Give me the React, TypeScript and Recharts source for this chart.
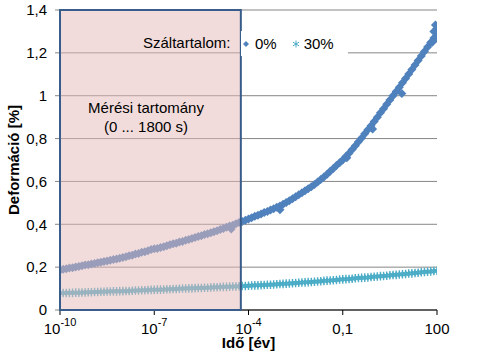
import { ScatterChart, Scatter, XAxis, YAxis, CartesianGrid, ReferenceArea } from 'recharts';

// time axis in years, given as log10 exponents (one reading every 0.1 decade)
const LOG_T = [
  -10, -9.9, -9.8, -9.7, -9.6, -9.5, -9.4, -9.3, -9.2, -9.1,
  -9, -8.9, -8.8, -8.7, -8.6, -8.5, -8.4, -8.3, -8.2, -8.1,
  -8, -7.9, -7.8, -7.7, -7.6, -7.5, -7.4, -7.3, -7.2, -7.1,
  -7, -6.9, -6.8, -6.7, -6.6, -6.5, -6.4, -6.3, -6.2, -6.1,
  -6, -5.9, -5.8, -5.7, -5.6, -5.5, -5.4, -5.3, -5.2, -5.1,
  -5, -4.9, -4.8, -4.7, -4.6, -4.5, -4.4, -4.3, -4.2, -4.1,
  -4, -3.9, -3.8, -3.7, -3.6, -3.5, -3.4, -3.3, -3.2, -3.1,
  -3, -2.9, -2.8, -2.7, -2.6, -2.5, -2.4, -2.3, -2.2, -2.1,
  -2, -1.9, -1.8, -1.7, -1.6, -1.5, -1.4, -1.3, -1.2, -1.1,
  -1, -0.9, -0.8, -0.7, -0.6, -0.5, -0.4, -0.3, -0.2, -0.1,
  0, 0.1, 0.2, 0.3, 0.4, 0.5, 0.6, 0.7, 0.8, 0.9,
  1, 1.1, 1.2, 1.3, 1.4, 1.5, 1.6, 1.7, 1.8, 1.9,
  2,
];

// deformation [%], 0% fibre content
const DEF_0 = [
  0.186, 0.19, 0.192, 0.196, 0.197, 0.201, 0.203, 0.206, 0.21, 0.211,
  0.215, 0.217, 0.221, 0.223, 0.226, 0.229, 0.232, 0.236, 0.238, 0.242,
  0.245, 0.248, 0.253, 0.256, 0.261, 0.264, 0.269, 0.272, 0.277, 0.282,
  0.286, 0.287, 0.292, 0.295, 0.3, 0.304, 0.309, 0.312, 0.317, 0.32,
  0.325, 0.329, 0.334, 0.338, 0.343, 0.347, 0.352, 0.356, 0.361, 0.365,
  0.37, 0.376, 0.38, 0.386, 0.392, 0.396, 0.403, 0.408, 0.413, 0.419,
  0.425, 0.43, 0.437, 0.442, 0.448, 0.455, 0.46, 0.467, 0.472, 0.479,
  0.485, 0.493, 0.502, 0.51, 0.519, 0.529, 0.538, 0.547, 0.556, 0.566,
  0.575, 0.586, 0.597, 0.609, 0.621, 0.634, 0.648, 0.66, 0.674, 0.687,
  0.7, 0.716, 0.732, 0.749, 0.767, 0.785, 0.803, 0.822, 0.841, 0.86,
  0.88, 0.899, 0.92, 0.939, 0.96, 0.98, 1.0, 1.02, 1.04, 1.06,
  1.08, 1.101, 1.122, 1.143, 1.164, 1.185, 1.206, 1.227, 1.248, 1.269,
  1.29,
];

// scattered single readings of the 0% series
const OUT_LOG_T = [-4.55, -3.0, -0.87, -0.05, 0.88, 1.85, 1.9, 1.95, 1.98, 2.0];
const OUT_DEF_0 = [0.378, 0.468, 0.71, 0.845, 1.01, 1.25, 1.3, 1.33, 1.31, 1.268];

// deformation [%], 30% fibre content
const DEF_30 = [
  0.078, 0.079, 0.079, 0.08, 0.08, 0.081, 0.081, 0.082, 0.082, 0.083,
  0.083, 0.084, 0.084, 0.085, 0.085, 0.086, 0.086, 0.087, 0.087, 0.088,
  0.088, 0.089, 0.089, 0.09, 0.091, 0.091, 0.092, 0.092, 0.093, 0.094,
  0.094, 0.095, 0.095, 0.096, 0.097, 0.097, 0.098, 0.098, 0.099, 0.1,
  0.1, 0.101, 0.101, 0.102, 0.103, 0.103, 0.104, 0.104, 0.105, 0.106,
  0.106, 0.107, 0.108, 0.108, 0.109, 0.11, 0.11, 0.111, 0.112, 0.112,
  0.113, 0.114, 0.115, 0.115, 0.116, 0.117, 0.118, 0.118, 0.119, 0.12,
  0.121, 0.122, 0.123, 0.124, 0.125, 0.126, 0.127, 0.128, 0.129, 0.13,
  0.131, 0.132, 0.133, 0.134, 0.136, 0.137, 0.138, 0.139, 0.14, 0.142,
  0.143, 0.144, 0.145, 0.146, 0.148, 0.149, 0.15, 0.151, 0.152, 0.154,
  0.155, 0.156, 0.158, 0.159, 0.16, 0.162, 0.163, 0.164, 0.166, 0.167,
  0.168, 0.17, 0.171, 0.173, 0.174, 0.176, 0.177, 0.179, 0.18, 0.182,
  0.183,
];

const X_TICKS = [1e-10, 1e-7, 1e-4, 0.1, 100];
const X_TICK_LABELS: [string, string][] = [
  ['10', '-10'],
  ['10', '-7'],
  ['10', '-4'],
  ['0,1', ''],
  ['100', ''],
];
const Y_TICKS = [0, 0.2, 0.4, 0.6, 0.8, 1, 1.2, 1.4];

// measuring range 0 ... 1800 s, in years
const RANGE_START = 1e-10;
const RANGE_END = 1800 / (365.25 * 24 * 3600);

const BLUE = '#4F81BD';
const TEAL = '#4BACC6';
const FONT = '"Liberation Sans", Arial, sans-serif';

const data0 = LOG_T.map((e, i) => ({ t: Math.pow(10, e), d: DEF_0[i] })).concat(
  OUT_LOG_T.map((e, i) => ({ t: Math.pow(10, e), d: OUT_DEF_0[i] }))
);
const data30 = LOG_T.map((e, i) => ({ t: Math.pow(10, e), d: DEF_30[i] }));

const Diamond = ({ cx, cy }: any) => {
  const r = 4.5;
  return <path d={`M${cx},${cy - r}L${cx + r},${cy}L${cx},${cy + r}L${cx - r},${cy}Z`} fill={BLUE} />;
};

const Asterisk = ({ cx, cy }: any) => {
  const r = 4.3;
  const a = r * 0.87;
  const b = r * 0.5;
  return (
    <path
      d={`M${cx},${cy - r}V${cy + r}M${cx - a},${cy - b}L${cx + a},${cy + b}M${cx - a},${cy + b}L${cx + a},${cy - b}`}
      stroke={TEAL}
      strokeWidth={1.4}
      fill="none"
    />
  );
};

const TimeTick = ({ x, y, index }: any) => {
  const [base, sup] = X_TICK_LABELS[index] ?? ['', ''];
  return (
    <text x={x} y={y + 17} textAnchor="middle" fontSize={15} fill="#000" fontFamily={FONT}>
      <tspan>{base}</tspan>
      {sup && (
        <tspan dy={-8} fontSize={11}>
          {sup}
        </tspan>
      )}
    </text>
  );
};

export default function App() {
  return (
    <div style={{ position: 'relative', width: 480, height: 355, fontFamily: FONT }}>
      <style>{'body{margin:0}'}</style>
      <ScatterChart width={480} height={355} margin={{ top: 10, right: 43, bottom: 0, left: 0 }}>
        <CartesianGrid vertical={false} stroke="#868686" strokeWidth={1} />
        <XAxis
          type="number"
          dataKey="t"
          scale="log"
          domain={[1e-10, 100]}
          ticks={X_TICKS}
          interval={0}
          allowDataOverflow
          height={45}
          axisLine={{ stroke: '#000' }}
          tickLine={{ stroke: '#000' }}
          tickSize={5}
          tick={<TimeTick />}
          label={{
            content: ({ viewBox }: any) => (
              <text
                x={viewBox.x + viewBox.width / 2}
                y={viewBox.y + 38}
                textAnchor="middle"
                fontSize={15}
                fontWeight="bold"
                fontFamily={FONT}
                fill="#000"
              >
                Idő [év]
              </text>
            ),
          }}
        />
        <YAxis
          type="number"
          dataKey="d"
          domain={[0, 1.4]}
          ticks={Y_TICKS}
          interval={0}
          width={60}
          axisLine={{ stroke: '#868686' }}
          tickLine={{ stroke: '#868686' }}
          tickSize={5}
          tickMargin={8}
          tick={{ fontSize: 15, fill: '#000', fontFamily: FONT }}
          tickFormatter={(v: number) => String(v).replace('.', ',')}
          label={{
            content: ({ viewBox }: any) => {
              const cx = 13;
              const cy = viewBox.y + viewBox.height / 2;
              return (
                <text
                  x={cx}
                  y={cy}
                  transform={`rotate(-90, ${cx}, ${cy})`}
                  textAnchor="middle"
                  dominantBaseline="central"
                  fontSize={15}
                  fontWeight="bold"
                  fontFamily={FONT}
                  fill="#000"
                >
                  Deformáció [%]
                </text>
              );
            },
          }}
        />
        <Scatter name="0%" data={data0} shape={<Diamond />} isAnimationActive={false} />
        <Scatter name="30%" data={data30} shape={<Asterisk />} isAnimationActive={false} />
        <ReferenceArea
          x1={RANGE_START}
          x2={RANGE_END}
          y1={0}
          y2={1.4}
          fill="#E6B9B8"
          fillOpacity={0.5}
          stroke="#385D8A"
          strokeWidth={2}
          ifOverflow="visible"
          zIndex={650}
        />
      </ScatterChart>

      {/* measuring range note */}
      <div
        style={{
          position: 'absolute',
          left: 66,
          top: 98,
          width: 160,
          textAlign: 'center',
          fontSize: 15,
          lineHeight: '19px',
          color: '#000',
        }}
      >
        <div>Mérési tartomány</div>
        <div>(0 ... 1800 s)</div>
      </div>

      {/* legend */}
      <div
        style={{
          position: 'absolute',
          left: 143,
          top: 34,
          fontSize: 15,
          lineHeight: '18px',
          color: '#000',
        }}
      >
        Száltartalom:
      </div>
      <div
        style={{
          position: 'absolute',
          left: 241,
          top: 31,
          width: 107,
          height: 25,
          background: '#fff',
          display: 'flex',
          alignItems: 'center',
          fontSize: 15,
          color: '#000',
        }}
      >
        <svg width={10} height={10}>
          <path d="M5,2L8,5L5,8L2,5Z" fill={BLUE} />
        </svg>
        <span style={{ marginLeft: 4 }}>0%</span>
        <svg width={10} height={10} style={{ marginLeft: 14 }}>
          <path d="M5,1.5V8.5M2,3.2L8,6.8M2,6.8L8,3.2" stroke={TEAL} strokeWidth={1} fill="none" />
        </svg>
        <span style={{ marginLeft: 3 }}>30%</span>
      </div>
    </div>
  );
}
